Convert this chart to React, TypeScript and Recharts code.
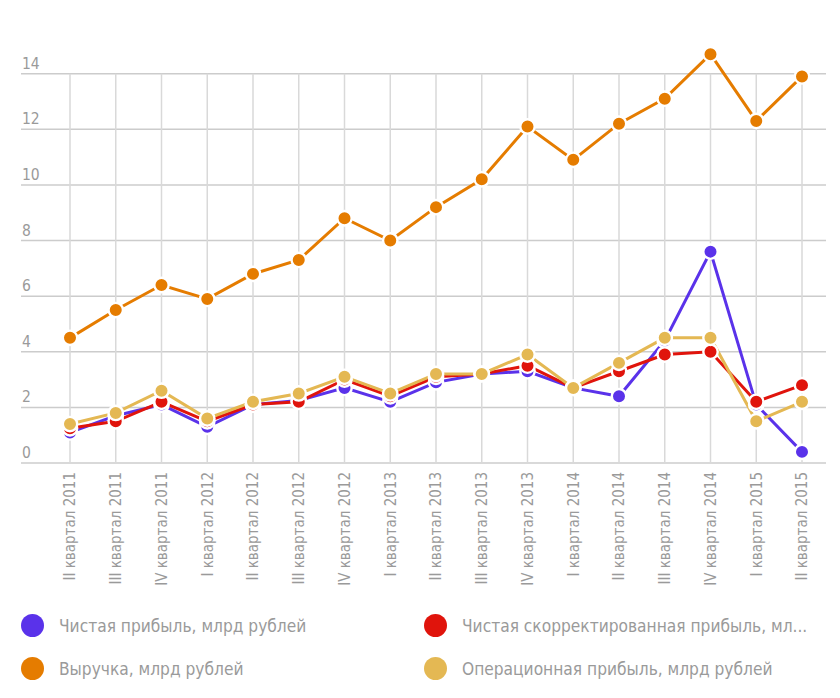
import { LineChart, Line, XAxis, YAxis, ReferenceLine } from "recharts";

const categories = [
  "II квартал 2011",
  "III квартал 2011",
  "IV квартал 2011",
  "I квартал 2012",
  "II квартал 2012",
  "III квартал 2012",
  "IV квартал 2012",
  "I квартал 2013",
  "II квартал 2013",
  "III квартал 2013",
  "IV квартал 2013",
  "I квартал 2014",
  "II квартал 2014",
  "III квартал 2014",
  "IV квартал 2014",
  "I квартал 2015",
  "II квартал 2015",
];

const netProfit = [1.1, 1.7, 2.1, 1.3, 2.1, 2.25, 2.7, 2.2, 2.9, 3.2, 3.3, 2.7, 2.4, 4.4, 7.6, 2.1, 0.4];
const adjustedProfit = [1.25, 1.5, 2.2, 1.5, 2.1, 2.2, 3.0, 2.4, 3.1, 3.2, 3.5, 2.7, 3.3, 3.9, 4.0, 2.2, 2.8];
const revenue = [4.5, 5.5, 6.4, 5.9, 6.8, 7.3, 8.8, 8.0, 9.2, 10.2, 12.1, 10.9, 12.2, 13.1, 14.7, 12.3, 13.9];
const operatingProfit = [1.4, 1.8, 2.6, 1.6, 2.2, 2.5, 3.1, 2.5, 3.2, 3.2, 3.9, 2.7, 3.6, 4.5, 4.5, 1.5, 2.2];

const yTicks = [0, 2, 4, 6, 8, 10, 12, 14];

const series = [
  { key: "net", name: "Чистая прибыль, млрд рублей", color: "#5a32ea", values: netProfit },
  { key: "adj", name: "Чистая скорректированная прибыль, мл...", color: "#e0140c", values: adjustedProfit },
  { key: "rev", name: "Выручка, млрд рублей", color: "#e57c00", values: revenue },
  { key: "op", name: "Операционная прибыль, млрд рублей", color: "#e4b853", values: operatingProfit },
];

const FONT = "'DejaVu Sans Condensed', 'Liberation Sans Narrow', sans-serif";
const TEXT = "#9a9a9a";

const data = categories.map((name, i) => {
  const row: Record<string, string | number> = { name };
  series.forEach((s) => {
    row[s.key] = s.values[i];
  });
  return row;
});

function XTick({ x, y, payload }: any) {
  return (
    <text
      transform={`translate(${x},${y + 9}) rotate(-90)`}
      textAnchor="end"
      dy="0.35em"
      fill={TEXT}
      fontSize={15}
      fontFamily={FONT}
    >
      {payload.value}
    </text>
  );
}

function YLabel({ viewBox, value }: any) {
  return (
    <text x={viewBox.x + 1} y={viewBox.y - 5} textAnchor="start" fill={TEXT} fontSize={15.5} fontFamily={FONT}>
      {value}
    </text>
  );
}

export default function App() {
  return (
    <div style={{ position: "absolute", left: 0, top: 0, width: 840, height: 698, background: "#fff" }}>
      <LineChart
        width={840}
        height={600}
        data={data}
        margin={{ top: 18, right: 14, left: 21, bottom: 17 }}
      >
        {yTicks.map((t) => (
          <ReferenceLine
            key={"h" + t}
            y={t}
            stroke="#cccccc"
            strokeWidth={1.5}
            label={<YLabel value={t} />}
          />
        ))}
        {categories.map((c) => (
          <ReferenceLine
            key={c}
            segment={[
              { x: c, y: 0 },
              { x: c, y: 14 },
            ]}
            stroke="#d9d9d9"
            strokeWidth={1.5}
          />
        ))}
        <XAxis
          dataKey="name"
          interval={0}
          padding={{ left: 49, right: 24 }}
          axisLine={false}
          tickLine={false}
          tickSize={0}
          tickMargin={0}
          height={120}
          tick={<XTick />}
        />
        <YAxis width={0} hide domain={[0, 16]} ticks={yTicks} />
        {series.map((s) => (
          <Line
            key={s.key}
            type="linear"
            dataKey={s.key}
            name={s.name}
            stroke={s.color}
            strokeWidth={3}
            dot={{ r: 7.2, fill: s.color, stroke: "#fff", strokeWidth: 2.4 }}
            isAnimationActive={false}
          />
        ))}
      </LineChart>
      {series.map((s, i) => (
        <div
          key={s.key}
          style={{
            position: "absolute",
            left: i % 2 === 0 ? 21 : 424,
            top: i < 2 ? 614 : 657,
            height: 23,
            display: "flex",
            alignItems: "center",
            fontFamily: FONT,
            fontSize: 17.2,
            color: TEXT,
            whiteSpace: "nowrap",
          }}
        >
          <span
            style={{
              display: "inline-block",
              width: 23,
              height: 23,
              borderRadius: "50%",
              background: s.color,
              marginRight: 15,
            }}
          />
          {s.name}
        </div>
      ))}
    </div>
  );
}
